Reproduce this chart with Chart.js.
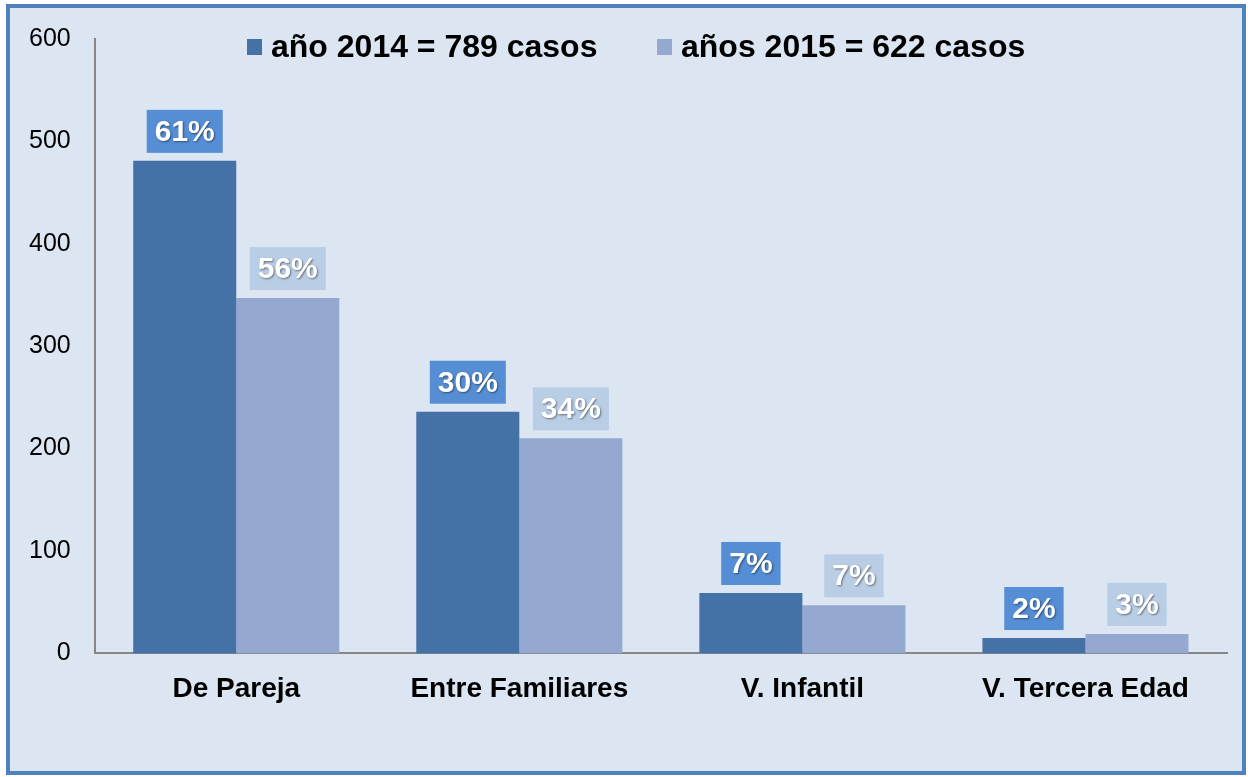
<!DOCTYPE html>
<html>
<head>
<meta charset="utf-8">
<script src="https://cdn.jsdelivr.net/npm/chart.js@4"></script>
<style>
  body { margin: 0; background: #ffffff; }
</style>
</head>
<body>
<canvas id="violenceChart" width="1248" height="777"></canvas>
<script>
var categories = ["De Pareja", "Entre Familiares", "V. Infantil", "V. Tercera Edad"];
var casos2014 = [481, 236, 59, 15];
var casos2015 = [347, 210, 47, 19];
var pct2014 = ["61%", "30%", "7%", "2%"];
var pct2015 = ["56%", "34%", "7%", "3%"];
var legendLabels = ["año 2014 = 789 casos", "años 2015 = 622 casos"];

// frame + background behind everything
const framePlugin = {
    id: 'frame',
    beforeDraw(chart) {
        const c = chart.ctx;
        c.save();
        c.fillStyle = '#ffffff';
        c.fillRect(0, 0, chart.width, chart.height);
        c.fillStyle = '#dce6f2';
        c.fillRect(6, 4, 1240, 771);
        c.strokeStyle = '#4f81bd';
        c.lineWidth = 4;
        c.strokeRect(8, 6, 1236, 767);
        c.restore();
    }
};

// percentage boxes above bars
const pctLabels = {
    id: 'pctLabels',
    afterDatasetsDraw(chart) {
        const c = chart.ctx;
        c.save();
        c.font = 'bold 30px "Liberation Sans", Arial, sans-serif';
        c.textAlign = 'center';
        c.textBaseline = 'middle';
        chart.data.datasets.forEach(function (ds, i) {
            const meta = chart.getDatasetMeta(i);
            meta.data.forEach(function (bar, j) {
                const txt = ds.pct[j];
                const w = c.measureText(txt).width + 16;
                const h = 43;
                const bottom = bar.y - 8;
                c.shadowColor = 'transparent';
                c.fillStyle = ds.boxColor;
                c.fillRect(bar.x - w / 2, bottom - h, w, h);
                c.shadowColor = 'rgba(0,0,0,0.45)';
                c.shadowBlur = 2;
                c.shadowOffsetX = 1;
                c.shadowOffsetY = 1;
                c.fillStyle = '#ffffff';
                c.fillText(txt, bar.x, bottom - h / 2 + 1);
            });
        });
        c.restore();
    }
};

// legend drawn over the top of the plot area, like the original
const topLegend = {
    id: 'topLegend',
    afterDraw(chart) {
        const c = chart.ctx;
        c.save();
        c.font = 'bold 32px "Liberation Sans", Arial, sans-serif';
        c.textBaseline = 'middle';
        const xs = [247, 657];
        chart.data.datasets.forEach(function (ds, i) {
            c.fillStyle = ds.backgroundColor;
            c.fillRect(xs[i], 39, 15, 16);
            c.fillStyle = '#000000';
            c.fillText(legendLabels[i], xs[i] + 24, 48);
        });
        c.restore();
    }
};

var ctx = document.getElementById('violenceChart').getContext('2d');

var violenceChart = new Chart(ctx, {
    type: 'bar',
    data: {
        labels: categories,
        datasets: [{
            label: legendLabels[0],
            data: casos2014,
            pct: pct2014,
            backgroundColor: '#4472a7',
            boxColor: '#558ed5',
            categoryPercentage: 0.728,
            barPercentage: 1.0
        }, {
            label: legendLabels[1],
            data: casos2015,
            pct: pct2015,
            backgroundColor: '#95a9d0',
            boxColor: '#b9cde5',
            categoryPercentage: 0.728,
            barPercentage: 1.0
        }]
    },
    options: {
        responsive: false,
        animation: false,
        layout: {
            padding: { left: 5, right: 21, top: 19, bottom: 52 }
        },
        scales: {
            x: {
                grid: { display: false, drawTicks: false },
                border: { display: true, color: '#868686', width: 2 },
                ticks: {
                    color: '#000000',
                    padding: 19,
                    font: { family: '"Liberation Sans", Arial, sans-serif', size: 28, weight: 'bold' }
                }
            },
            y: {
                min: 0,
                max: 600,
                grid: { display: false, drawTicks: false },
                border: { display: true, color: '#868686', width: 2 },
                ticks: {
                    stepSize: 100,
                    color: '#000000',
                    padding: 24,
                    font: { family: '"Liberation Sans", Arial, sans-serif', size: 25 }
                }
            }
        },
        plugins: {
            legend: { display: false },
            tooltip: { enabled: false }
        }
    },
    plugins: [framePlugin, pctLabels, topLegend]
});
</script>
</body>
</html>
